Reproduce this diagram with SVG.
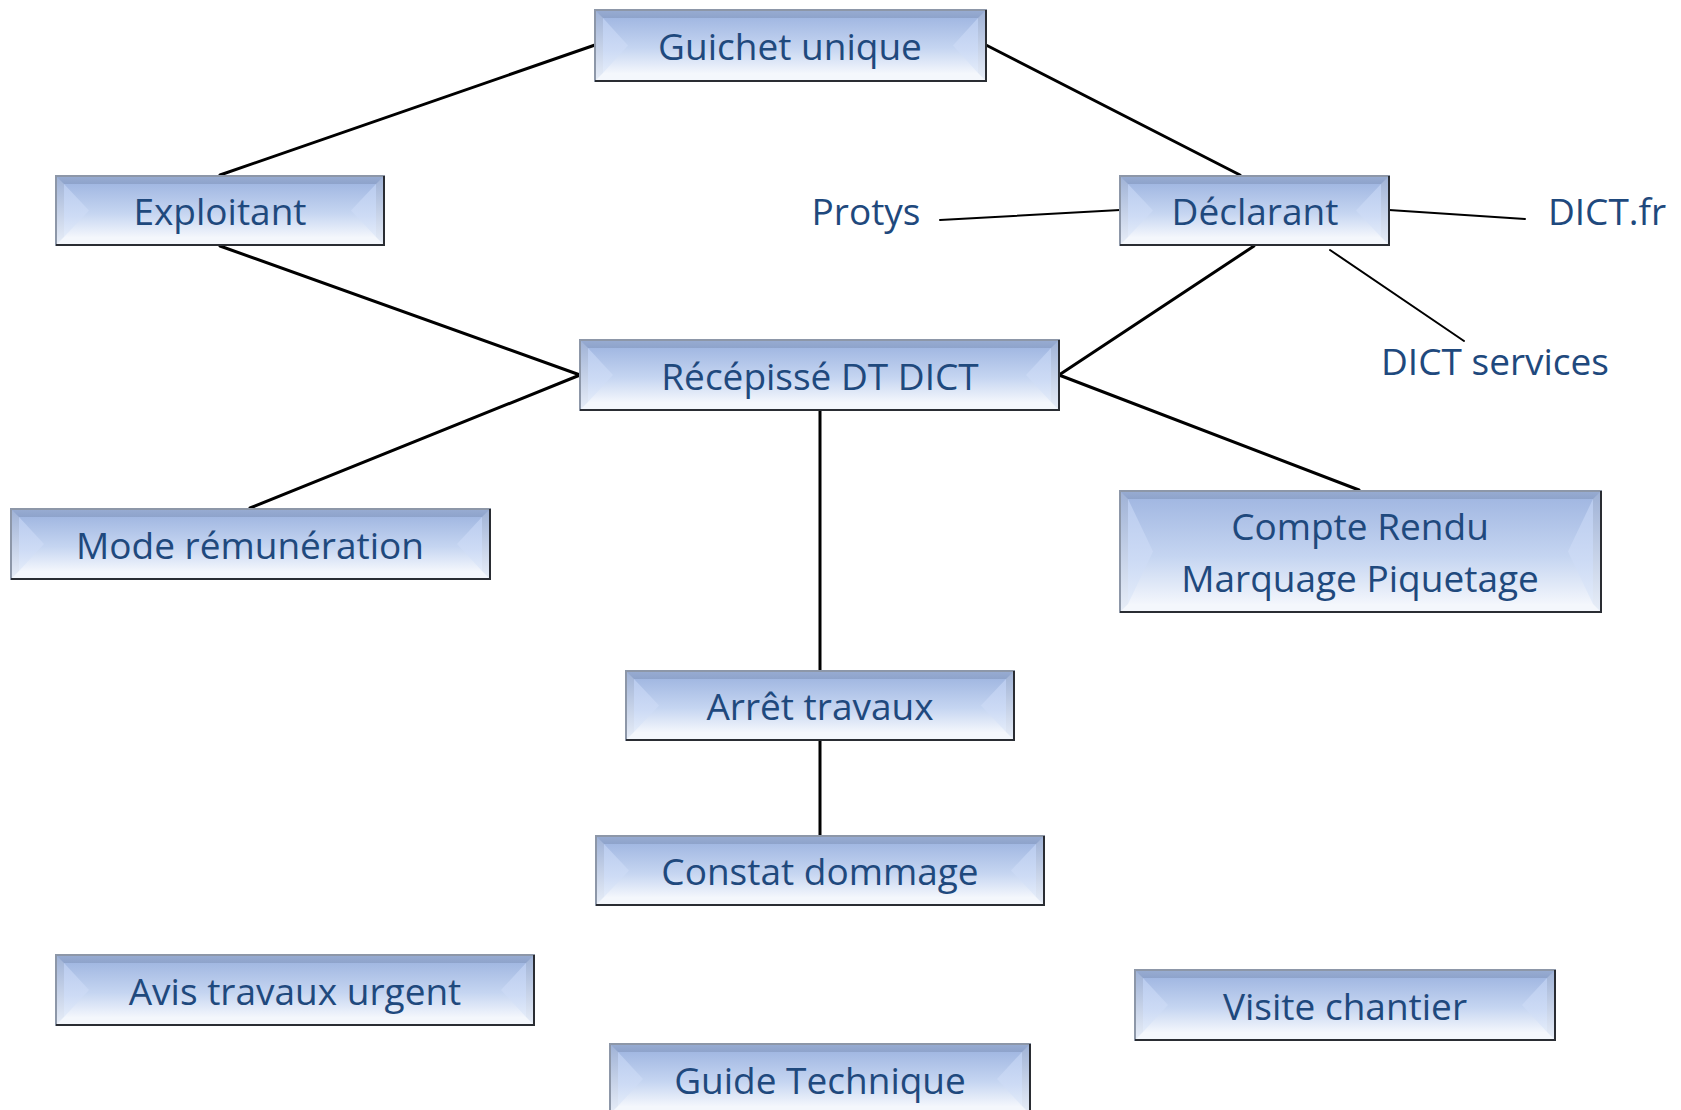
<svg xmlns="http://www.w3.org/2000/svg" width="1681" height="1110" viewBox="0 0 1681 1110">
<defs>
<linearGradient id="gFace" x1="0" y1="0" x2="0" y2="1">
<stop offset="0" stop-color="#a2b8e2"/>
<stop offset="0.55" stop-color="#c5d5f1"/>
<stop offset="1" stop-color="#f3f6fc"/>
</linearGradient>
<linearGradient id="gSide" x1="0" y1="0" x2="0" y2="1">
<stop offset="0" stop-color="#b9cbee"/>
<stop offset="0.6" stop-color="#cddbf5"/>
<stop offset="1" stop-color="#e4ecf9"/>
</linearGradient>
<linearGradient id="gTop" x1="0" y1="0" x2="0" y2="1">
<stop offset="0" stop-color="#98acd2"/>
<stop offset="1" stop-color="#8ea3cb"/>
</linearGradient>
<linearGradient id="gEdge" x1="0" y1="0" x2="0" y2="1">
<stop offset="0" stop-color="#9fb2d6"/>
<stop offset="1" stop-color="#e8eef8"/>
</linearGradient>
</defs>
<style>
.face{fill:url(#gFace)}
.side{fill:url(#gSide)}
.top{fill:url(#gTop)}
.bot{fill:#f4f7fc}
.edge{fill:url(#gEdge)}
.frame{fill:none;stroke:#8d97a8;stroke-width:2}
.shadow{fill:none;stroke:#2a2d33;stroke-width:2}
.lbl{font-family:"Open Sans","Noto Sans","Liberation Sans",sans-serif;font-size:37px;fill:#1f497d;text-anchor:middle}
.conn line{stroke:#000;stroke-width:3;stroke-linecap:round}
.conn line.thin{stroke-width:2}
</style>
<rect width="1681" height="1110" fill="#ffffff"/>
<g class="conn" id="connectors">
<line x1="595" y1="45" x2="220" y2="175"/>
<line x1="986" y1="45" x2="1240" y2="175"/>
<line x1="220" y1="246" x2="580" y2="375"/>
<line x1="580" y1="375" x2="250" y2="508"/>
<line x1="1254" y1="246" x2="1059" y2="375"/>
<line x1="1059" y1="375" x2="1359" y2="490"/>
<line x1="820" y1="410" x2="820" y2="671"/>
<line x1="820" y1="740" x2="820" y2="836"/>
<line class="thin" x1="940" y1="220" x2="1120" y2="210"/>
<line class="thin" x1="1389" y1="210" x2="1525" y2="219"/>
<line class="thin" x1="1330" y1="250" x2="1464" y2="341"/>
</g>
<g id="n-guichet">
<rect class="edge" x="595" y="10" width="391" height="71"/>
<polygon class="top" points="595,10 986,10 978,18 603,18"/>
<polygon class="bot" points="595,81 986,81 978,73 603,73"/>
<rect class="face" x="603" y="18" width="375" height="55"/>
<polygon class="side" points="603,18 628,45.5 603,73"/>
<polygon class="side" points="978,18 953,45.5 978,73"/>
<rect class="frame" x="595" y="10" width="391" height="71"/>
<polyline class="shadow" points="986,10 986,81 595,81"/>
<text class="lbl" x="790" y="60">Guichet unique</text>
</g>
<g id="n-exploitant">
<rect class="edge" x="56" y="176" width="328" height="69"/>
<polygon class="top" points="56,176 384,176 376,184 64,184"/>
<polygon class="bot" points="56,245 384,245 376,237 64,237"/>
<rect class="face" x="64" y="184" width="312" height="53"/>
<polygon class="side" points="64,184 89,210.5 64,237"/>
<polygon class="side" points="376,184 351,210.5 376,237"/>
<rect class="frame" x="56" y="176" width="328" height="69"/>
<polyline class="shadow" points="384,176 384,245 56,245"/>
<text class="lbl" x="220" y="225">Exploitant</text>
</g>
<g id="n-declarant">
<rect class="edge" x="1120" y="176" width="269" height="69"/>
<polygon class="top" points="1120,176 1389,176 1381,184 1128,184"/>
<polygon class="bot" points="1120,245 1389,245 1381,237 1128,237"/>
<rect class="face" x="1128" y="184" width="253" height="53"/>
<polygon class="side" points="1128,184 1153,210.5 1128,237"/>
<polygon class="side" points="1381,184 1356,210.5 1381,237"/>
<rect class="frame" x="1120" y="176" width="269" height="69"/>
<polyline class="shadow" points="1389,176 1389,245 1120,245"/>
<text class="lbl" x="1255" y="225">Déclarant</text>
</g>
<g id="t-protys"><text class="lbl" x="866" y="225">Protys</text></g>
<g id="t-dictfr"><text class="lbl" x="1607" y="225">DICT.fr</text></g>
<g id="t-dictservices"><text class="lbl" x="1495" y="375">DICT services</text></g>
<g id="n-recepisse">
<rect class="edge" x="580" y="340" width="479" height="70"/>
<polygon class="top" points="580,340 1059,340 1051,348 588,348"/>
<polygon class="bot" points="580,410 1059,410 1051,402 588,402"/>
<rect class="face" x="588" y="348" width="463" height="54"/>
<polygon class="side" points="588,348 613,375 588,402"/>
<polygon class="side" points="1051,348 1026,375 1051,402"/>
<rect class="frame" x="580" y="340" width="479" height="70"/>
<polyline class="shadow" points="1059,340 1059,410 580,410"/>
<text class="lbl" x="820" y="390">Récépissé DT DICT</text>
</g>
<g id="n-mode">
<rect class="edge" x="11" y="509" width="479" height="70"/>
<polygon class="top" points="11,509 490,509 482,517 19,517"/>
<polygon class="bot" points="11,579 490,579 482,571 19,571"/>
<rect class="face" x="19" y="517" width="463" height="54"/>
<polygon class="side" points="19,517 44,544 19,571"/>
<polygon class="side" points="482,517 457,544 482,571"/>
<rect class="frame" x="11" y="509" width="479" height="70"/>
<polyline class="shadow" points="490,509 490,579 11,579"/>
<text class="lbl" x="250" y="559">Mode rémunération</text>
</g>
<g id="n-compte">
<rect class="edge" x="1120" y="491" width="481" height="121"/>
<polygon class="top" points="1120,491 1601,491 1593,499 1128,499"/>
<polygon class="bot" points="1120,612 1601,612 1593,604 1128,604"/>
<rect class="face" x="1128" y="499" width="465" height="105"/>
<polygon class="side" points="1128,499 1153,551.5 1128,604"/>
<polygon class="side" points="1593,499 1568,551.5 1593,604"/>
<rect class="frame" x="1120" y="491" width="481" height="121"/>
<polyline class="shadow" points="1601,491 1601,612 1120,612"/>
<text class="lbl" x="1360" y="540">Compte Rendu</text>
<text class="lbl" x="1360" y="592">Marquage Piquetage</text>
</g>
<g id="n-arret">
<rect class="edge" x="626" y="671" width="388" height="69"/>
<polygon class="top" points="626,671 1014,671 1006,679 634,679"/>
<polygon class="bot" points="626,740 1014,740 1006,732 634,732"/>
<rect class="face" x="634" y="679" width="372" height="53"/>
<polygon class="side" points="634,679 659,705.5 634,732"/>
<polygon class="side" points="1006,679 981,705.5 1006,732"/>
<rect class="frame" x="626" y="671" width="388" height="69"/>
<polyline class="shadow" points="1014,671 1014,740 626,740"/>
<text class="lbl" x="820" y="720">Arrêt travaux</text>
</g>
<g id="n-constat">
<rect class="edge" x="596" y="836" width="448" height="69"/>
<polygon class="top" points="596,836 1044,836 1036,844 604,844"/>
<polygon class="bot" points="596,905 1044,905 1036,897 604,897"/>
<rect class="face" x="604" y="844" width="432" height="53"/>
<polygon class="side" points="604,844 629,870.5 604,897"/>
<polygon class="side" points="1036,844 1011,870.5 1036,897"/>
<rect class="frame" x="596" y="836" width="448" height="69"/>
<polyline class="shadow" points="1044,836 1044,905 596,905"/>
<text class="lbl" x="820" y="885">Constat dommage</text>
</g>
<g id="n-avis">
<rect class="edge" x="56" y="955" width="478" height="70"/>
<polygon class="top" points="56,955 534,955 526,963 64,963"/>
<polygon class="bot" points="56,1025 534,1025 526,1017 64,1017"/>
<rect class="face" x="64" y="963" width="462" height="54"/>
<polygon class="side" points="64,963 89,990 64,1017"/>
<polygon class="side" points="526,963 501,990 526,1017"/>
<rect class="frame" x="56" y="955" width="478" height="70"/>
<polyline class="shadow" points="534,955 534,1025 56,1025"/>
<text class="lbl" x="295" y="1005">Avis travaux urgent</text>
</g>
<g id="n-visite">
<rect class="edge" x="1135" y="970" width="420" height="70"/>
<polygon class="top" points="1135,970 1555,970 1547,978 1143,978"/>
<polygon class="bot" points="1135,1040 1555,1040 1547,1032 1143,1032"/>
<rect class="face" x="1143" y="978" width="404" height="54"/>
<polygon class="side" points="1143,978 1168,1005 1143,1032"/>
<polygon class="side" points="1547,978 1522,1005 1547,1032"/>
<rect class="frame" x="1135" y="970" width="420" height="70"/>
<polyline class="shadow" points="1555,970 1555,1040 1135,1040"/>
<text class="lbl" x="1345" y="1020">Visite chantier</text>
</g>
<g id="n-guide">
<rect class="edge" x="610" y="1044" width="420" height="70"/>
<polygon class="top" points="610,1044 1030,1044 1022,1052 618,1052"/>
<polygon class="bot" points="610,1114 1030,1114 1022,1106 618,1106"/>
<rect class="face" x="618" y="1052" width="404" height="54"/>
<polygon class="side" points="618,1052 643,1079 618,1106"/>
<polygon class="side" points="1022,1052 997,1079 1022,1106"/>
<rect class="frame" x="610" y="1044" width="420" height="70"/>
<polyline class="shadow" points="1030,1044 1030,1114 610,1114"/>
<text class="lbl" x="820" y="1094">Guide Technique</text>
</g>
</svg>
